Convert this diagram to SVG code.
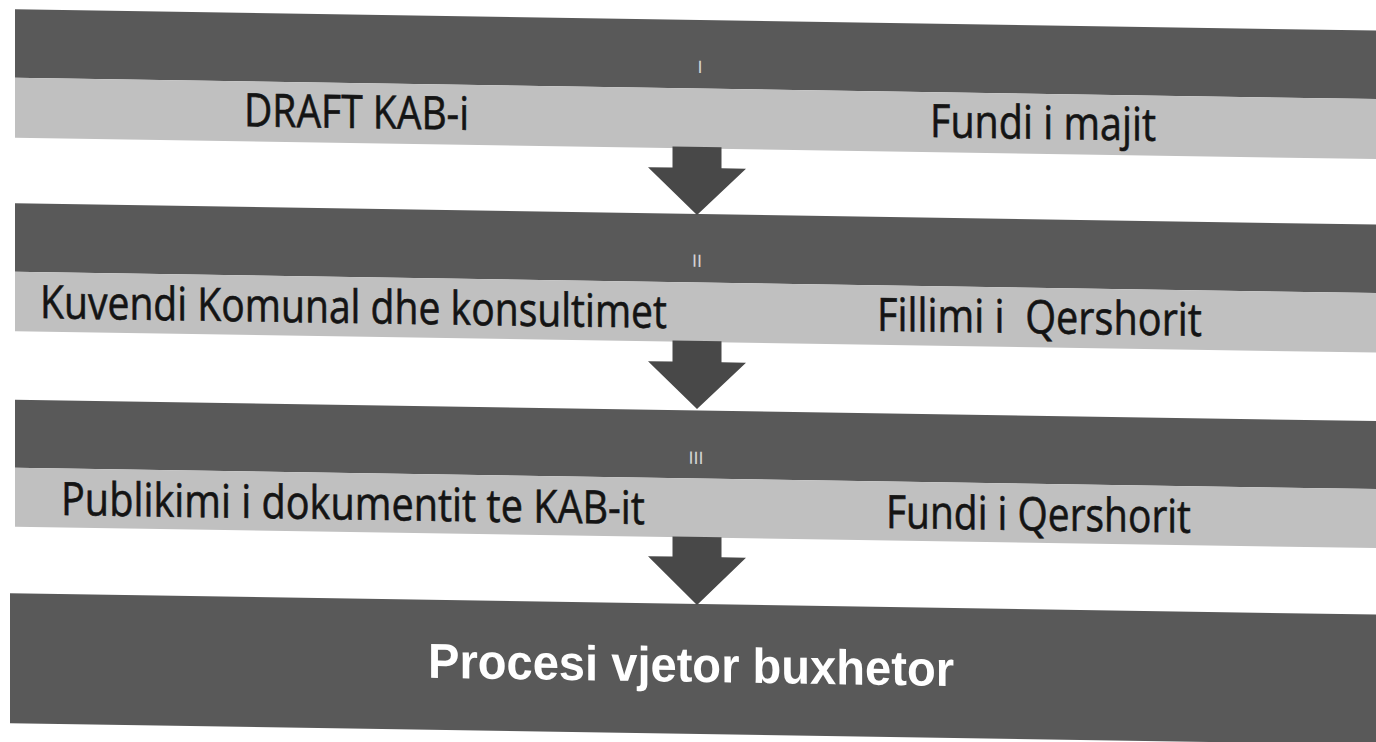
<svg xmlns="http://www.w3.org/2000/svg" width="1376" height="742" viewBox="0 0 1376 742">
  <style>
    .dark { fill: #595959; }
    .light { fill: #c0c0c0; }
    .arrow { fill: #484848; }
    .lbl { font-family: "Open Sans", "Liberation Sans", sans-serif; font-size: 46px; fill: #141414; stroke: #141414; stroke-width: 0.6px; white-space: pre; }
    .num { font-family: "Liberation Sans", sans-serif; font-size: 18px; fill: #d2d2d2; text-anchor: middle; }
    .big { font-family: "Liberation Sans", Arial, sans-serif; font-weight: bold; font-size: 49px; fill: #ffffff; }
  </style>
  <rect width="1376" height="742" fill="#ffffff"/>
  <g transform="skewY(0.9)">
    <g id="step1">
      <rect class="dark" x="15" y="9" width="1380" height="68.5"/>
      <rect class="light" x="15" y="77.5" width="1380" height="60"/>
      <text class="num" x="700" y="62">I</text>
      <text class="lbl" x="244" y="122.5" textLength="225" lengthAdjust="spacingAndGlyphs">DRAFT KAB-i</text>
      <text class="lbl" x="930" y="122.5" textLength="226" lengthAdjust="spacingAndGlyphs">Fundi i majit</text>
    </g>
    <g id="step2">
      <rect class="dark" x="15" y="203" width="1380" height="68.5"/>
      <rect class="light" x="15" y="271.5" width="1380" height="59.5"/>
      <text class="num" x="697" y="256">II</text>
      <text class="lbl" x="40" y="317.5" textLength="627" lengthAdjust="spacingAndGlyphs">Kuvendi Komunal dhe konsultimet</text>
      <text class="lbl" x="877" y="317" textLength="325" lengthAdjust="spacingAndGlyphs">Fillimi i  Qershorit</text>
    </g>
    <g id="step3">
      <rect class="dark" x="15" y="399.5" width="1380" height="68"/>
      <rect class="light" x="15" y="467.5" width="1380" height="59"/>
      <text class="num" x="696" y="453">III</text>
      <text class="lbl" x="61" y="514" textLength="584" lengthAdjust="spacingAndGlyphs">Publikimi i dokumentit te KAB-it</text>
      <text class="lbl" x="886" y="514" textLength="305" lengthAdjust="spacingAndGlyphs">Fundi i Qershorit</text>
    </g>
    <g id="step4">
      <rect class="dark" x="10" y="593" width="1385" height="130"/>
      <text class="big" x="428" y="671" textLength="526" lengthAdjust="spacingAndGlyphs">Procesi vjetor buxhetor</text>
    </g>
    <g id="connectors">
      <polygon class="arrow" points="672.5,136 721.5,136 721.5,157 746,157 697,204 648,157 672.5,157"/>
      <polygon class="arrow" points="672.5,330 721.5,330 721.5,351 746,351 697,398 648,351 672.5,351"/>
      <polygon class="arrow" points="672.5,526 721.5,526 721.5,546 746,546 697,594 648,546 672.5,546"/>
    </g>
  </g>
</svg>
